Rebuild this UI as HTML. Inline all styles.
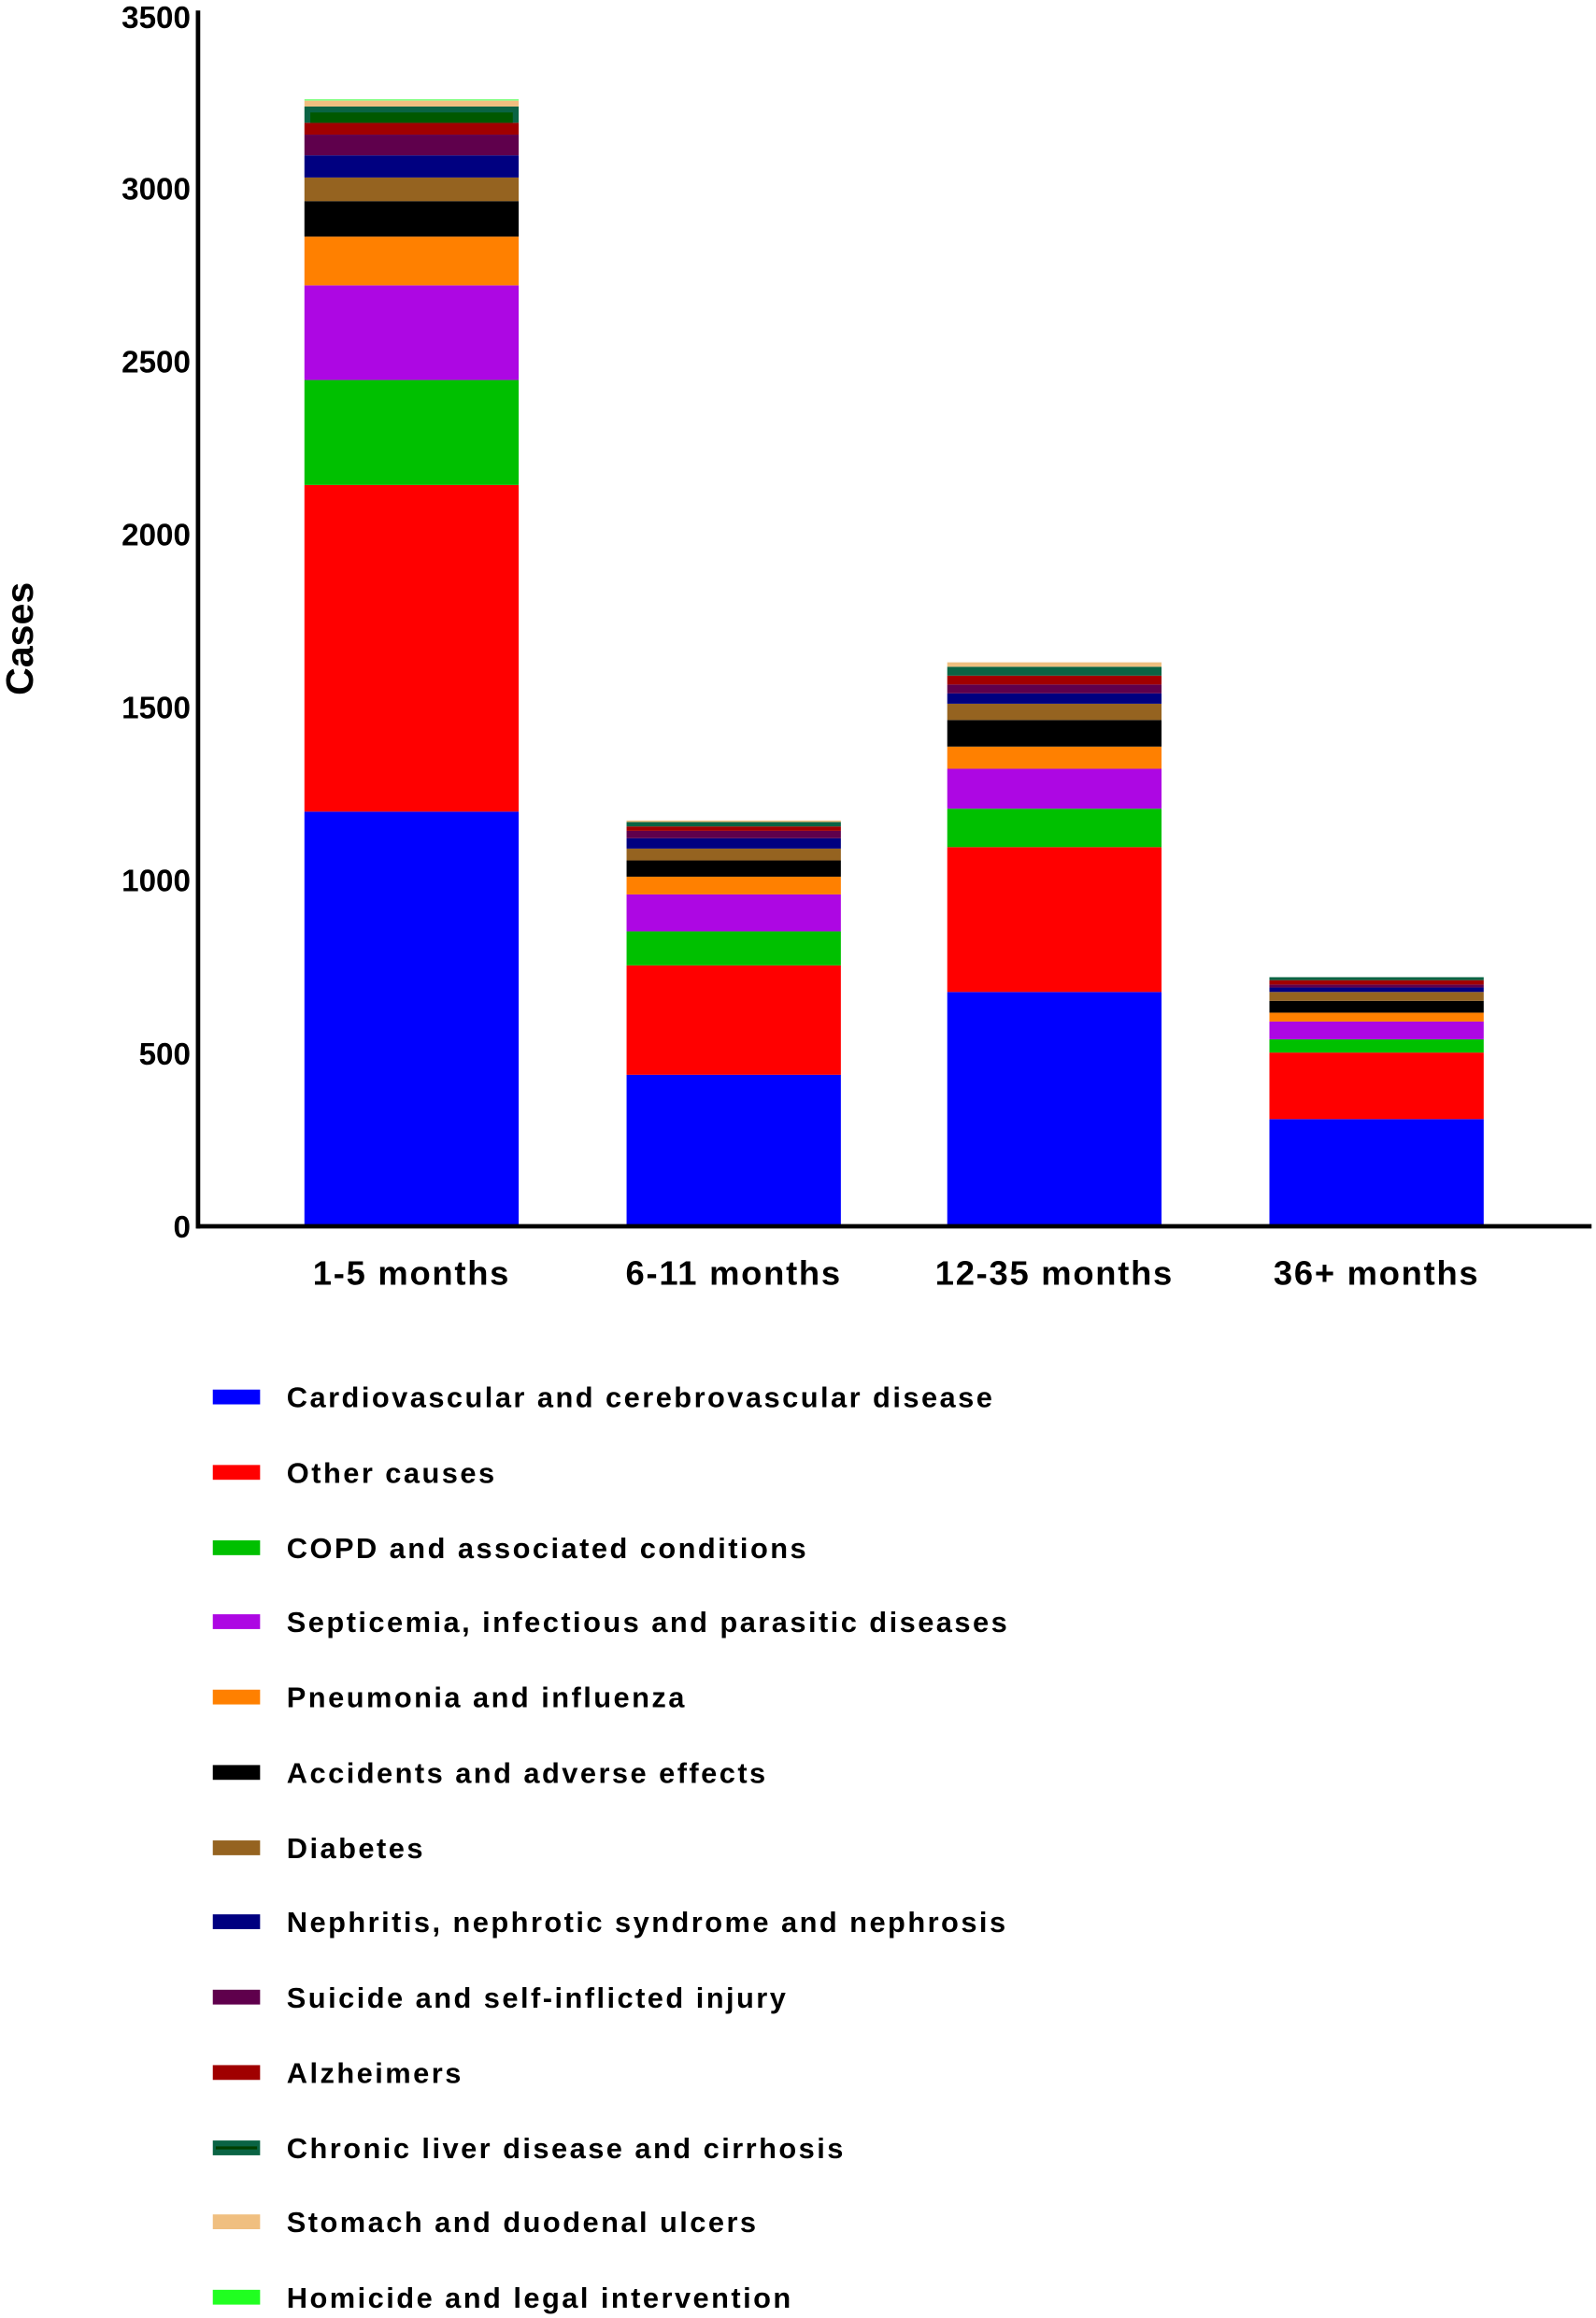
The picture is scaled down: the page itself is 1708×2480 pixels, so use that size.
<!DOCTYPE html>
<html><head><meta charset="utf-8"><style>html,body{margin:0;padding:0;background:#fff}svg{display:block}</style></head>
<body>
<svg width="1708" height="2480" viewBox="0 0 1080 1568" xmlns="http://www.w3.org/2000/svg" font-family="Liberation Sans, Arial, sans-serif" font-weight="bold">
<!-- Bar 1 -->
<rect x="206" y="549" width="145" height="280" fill="#0000ff"/>
<rect x="206" y="328" width="145" height="221" fill="#ff0000"/>
<rect x="206" y="257" width="145" height="71" fill="#00c000"/>
<rect x="206" y="193" width="145" height="64" fill="#ad07e3"/>
<rect x="206" y="160" width="145" height="33" fill="#ff8000"/>
<rect x="206" y="136" width="145" height="24" fill="#000000"/>
<rect x="206" y="120" width="145" height="16" fill="#956320"/>
<rect x="206" y="105" width="145" height="15" fill="#000080"/>
<rect x="206" y="91" width="145" height="14" fill="#5f004c"/>
<rect x="206" y="83" width="145" height="8" fill="#a00000"/>
<rect x="206" y="72" width="145" height="11" fill="#0a6444"/>
<rect x="210" y="76" width="137" height="7" fill="#005800"/>
<rect x="206" y="68" width="145" height="4" fill="#f0bf80"/>
<rect x="206" y="67" width="145" height="1" fill="#80ff80"/>
<!-- Bar 2 -->
<rect x="424" y="727" width="145" height="102" fill="#0000ff"/>
<rect x="424" y="653" width="145" height="74" fill="#ff0000"/>
<rect x="424" y="630" width="145" height="23" fill="#00c000"/>
<rect x="424" y="605" width="145" height="25" fill="#ad07e3"/>
<rect x="424" y="593" width="145" height="12" fill="#ff8000"/>
<rect x="424" y="582" width="145" height="11" fill="#000000"/>
<rect x="424" y="574" width="145" height="8" fill="#956320"/>
<rect x="424" y="567" width="145" height="7" fill="#000080"/>
<rect x="424" y="562" width="145" height="5" fill="#5f004c"/>
<rect x="424" y="559" width="145" height="3" fill="#a00000"/>
<rect x="424" y="556" width="145" height="3" fill="#0a6444"/>
<rect x="424" y="555" width="145" height="1" fill="#f0bf80"/>
<!-- Bar 3 -->
<rect x="641" y="671" width="145" height="158" fill="#0000ff"/>
<rect x="641" y="573" width="145" height="98" fill="#ff0000"/>
<rect x="641" y="547" width="145" height="26" fill="#00c000"/>
<rect x="641" y="520" width="145" height="27" fill="#ad07e3"/>
<rect x="641" y="505" width="145" height="15" fill="#ff8000"/>
<rect x="641" y="487" width="145" height="18" fill="#000000"/>
<rect x="641" y="476" width="145" height="11" fill="#956320"/>
<rect x="641" y="469" width="145" height="7" fill="#000080"/>
<rect x="641" y="463" width="145" height="6" fill="#5f004c"/>
<rect x="641" y="457" width="145" height="6" fill="#a00000"/>
<rect x="641" y="451" width="145" height="6" fill="#0a6444"/>
<rect x="641" y="448" width="145" height="3" fill="#f0bf80"/>
<!-- Bar 4 -->
<rect x="859" y="757" width="145" height="72" fill="#0000ff"/>
<rect x="859" y="712" width="145" height="45" fill="#ff0000"/>
<rect x="859" y="703" width="145" height="9" fill="#00c000"/>
<rect x="859" y="691" width="145" height="12" fill="#ad07e3"/>
<rect x="859" y="685" width="145" height="6" fill="#ff8000"/>
<rect x="859" y="677" width="145" height="8" fill="#000000"/>
<rect x="859" y="671" width="145" height="6" fill="#956320"/>
<rect x="859" y="668" width="145" height="3" fill="#000080"/>
<rect x="859" y="666" width="145" height="2" fill="#5f004c"/>
<rect x="859" y="663" width="145" height="3" fill="#a00000"/>
<rect x="859" y="661" width="145" height="2" fill="#0a6444"/>
<!-- axes -->
<line x1="134" y1="7" x2="134" y2="831" stroke="#000" stroke-width="3"/>
<line x1="133" y1="829.5" x2="1077" y2="829.5" stroke="#000" stroke-width="3"/>
<g font-size="21" text-anchor="end">
<text x="129" y="19">3500</text>
<text x="129" y="135">3000</text>
<text x="129" y="252">2500</text>
<text x="129" y="369">2000</text>
<text x="129" y="486">1500</text>
<text x="129" y="603">1000</text>
<text x="129" y="720">500</text>
<text x="129" y="837">0</text>
</g>
<text transform="translate(22,432) rotate(-90)" font-size="26" text-anchor="middle">Cases</text>
<g font-size="23" text-anchor="middle" letter-spacing="1.1">
<text x="278.5" y="869">1-5 months</text>
<text x="496.5" y="869">6-11 months</text>
<text x="713.5" y="869">12-35 months</text>
<text x="931.5" y="869">36+ months</text>
</g>
<g font-size="19.5" letter-spacing="1.55">
<rect x="144" y="940" width="32" height="10" fill="#0000ff"/><text x="194" y="952">Cardiovascular and cerebrovascular disease</text>
<rect x="144" y="991" width="32" height="10" fill="#ff0000"/><text x="194" y="1003">Other causes</text>
<rect x="144" y="1042" width="32" height="10" fill="#00c000"/><text x="194" y="1054">COPD and associated conditions</text>
<rect x="144" y="1092" width="32" height="10" fill="#ad07e3"/><text x="194" y="1104">Septicemia, infectious and parasitic diseases</text>
<rect x="144" y="1143" width="32" height="10" fill="#ff8000"/><text x="194" y="1155">Pneumonia and influenza</text>
<rect x="144" y="1194" width="32" height="10" fill="#000000"/><text x="194" y="1206">Accidents and adverse effects</text>
<rect x="144" y="1245" width="32" height="10" fill="#956320"/><text x="194" y="1257">Diabetes</text>
<rect x="144" y="1295" width="32" height="10" fill="#000080"/><text x="194" y="1307">Nephritis, nephrotic syndrome and nephrosis</text>
<rect x="144" y="1346" width="32" height="10" fill="#5f004c"/><text x="194" y="1358">Suicide and self-inflicted injury</text>
<rect x="144" y="1397" width="32" height="10" fill="#a00000"/><text x="194" y="1409">Alzheimers</text>
<rect x="144" y="1448" width="32" height="10" fill="#0a6444"/><line x1="146" y1="1453" x2="174" y2="1453" stroke="#004000" stroke-width="2"/><text x="194" y="1460">Chronic liver disease and cirrhosis</text>
<rect x="144" y="1498" width="32" height="10" fill="#f0bf80"/><text x="194" y="1510">Stomach and duodenal ulcers</text>
<rect x="144" y="1549" width="32" height="10" fill="#20ff20"/><text x="194" y="1561">Homicide and legal intervention</text>
</g>
</svg>
</body></html>
